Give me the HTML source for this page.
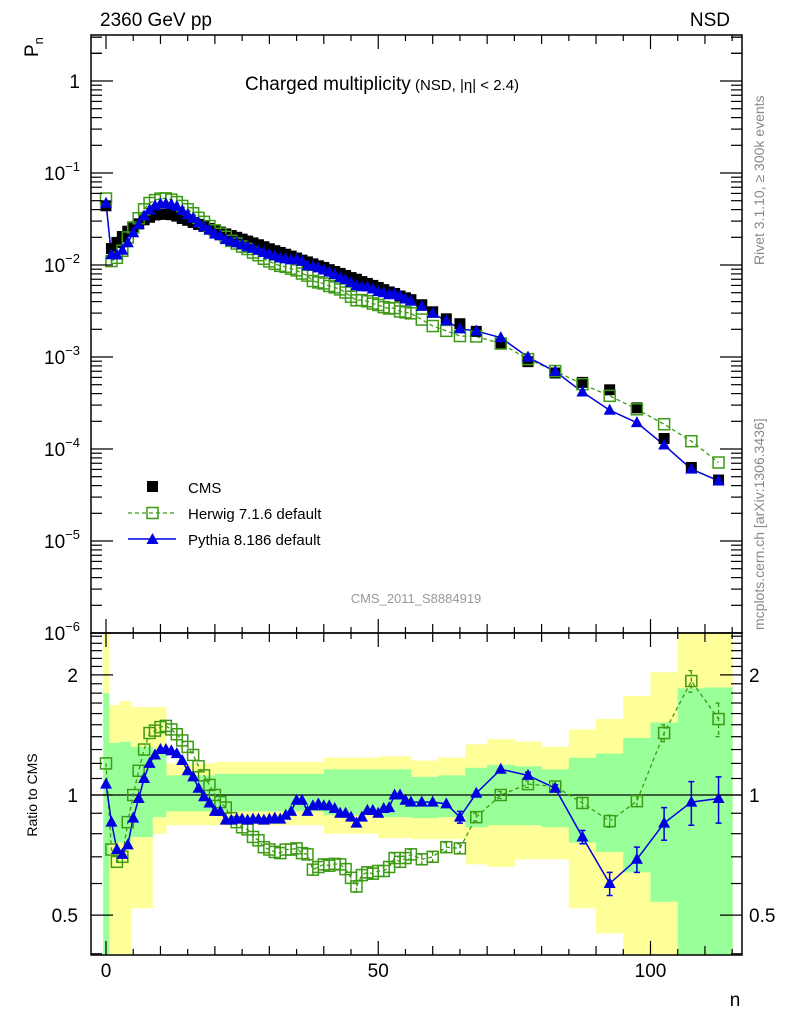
<!DOCTYPE html>
<html><head><meta charset="utf-8"><style>
body{margin:0;background:#fff}
svg{display:block;font-family:"Liberation Sans",sans-serif}
</style></head><body>
<svg id="chart" width="786" height="1024" viewBox="0 0 786 1024">
<rect x="0" y="0" width="786" height="1024" fill="#fff"/>
<g id="bands"></g>
<g id="grid"></g>
<g id="series"></g>
<g id="axes"></g>
<g id="texts">
<text x="100" y="26" font-size="19">2360 GeV pp</text>
<text x="730" y="26" font-size="19" text-anchor="end">NSD</text>
<text transform="translate(38,57) rotate(-90)" font-size="19">P<tspan font-size="13" dy="5">n</tspan></text>
<text x="245" y="90" font-size="19">Charged multiplicity<tspan font-size="15"> (NSD, |η| &lt; 2.4)</tspan></text>
<text transform="translate(764,265) rotate(-90)" font-size="14" fill="#888">Rivet 3.1.10, ≥ 300k events</text>
<text transform="translate(764,630) rotate(-90)" font-size="14" fill="#888">mcplots.cern.ch [arXiv:1306.3436]</text>
<text x="416" y="603" font-size="13" fill="#999" text-anchor="middle">CMS_2011_S8884919</text>
<text transform="translate(37,795) rotate(-90)" font-size="14" text-anchor="middle">Ratio to CMS</text>
<text x="735" y="1006" font-size="19" text-anchor="middle">n</text>
<g>
<rect x="147" y="481" width="11" height="11" fill="#000"/>
<text x="188" y="493" font-size="15">CMS</text>
<line x1="128" y1="513" x2="176" y2="513" stroke="#3c9a14" stroke-width="1.3" stroke-dasharray="4,3"/>
<rect x="147" y="507.5" width="11" height="11" fill="none" stroke="#3c9a14" stroke-width="1.5"/>
<text x="188" y="519" font-size="15">Herwig 7.1.6 default</text>
<line x1="128" y1="539" x2="176" y2="539" stroke="#0000e0" stroke-width="1.5"/>
<polygon points="152.5,533 158.5,544 146.5,544" fill="#0000e0"/>
<text x="188" y="545" font-size="15">Pythia 8.186 default</text>
</g>
</g>
</svg>
<script>
// ---- data ----
const nBins = [0,1,2,3,4,5,6,7,8,9,10,11,12,13,14,15,16,17,18,19,20,21,22,23,24,25,26,27,28,29,30,31,32,33,34,35,36,37,38,39,40,41,42,43,44,45,46,47,48,49,50,51,52,53,54,55,56,58,60,62.5,65,68,72.5,77.5,82.5,87.5,92.5,97.5,102.5,107.5,112.5];
const cmsValues = [0.044,0.0151,0.0176,0.0204,0.0233,0.0256,0.028,0.031,0.033,0.035,0.0356,0.0356,0.0352,0.034,0.032,0.0306,0.029,0.0276,0.0263,0.025,0.0238,0.0228,0.0218,0.0209,0.02,0.0191,0.0182,0.0174,0.0166,0.0158,0.015,0.0143,0.0137,0.0131,0.0125,0.0119,0.0113,0.0108,0.0103,0.0098,0.0094,0.0089,0.0085,0.0081,0.0077,0.0073,0.007,0.0066,0.0063,0.006,0.0057,0.0054,0.0051,0.0049,0.0046,0.0044,0.0042,0.0037,0.0031,0.0026,0.0023,0.0019,0.0014,0.00089,0.00067,0.00053,0.00044,0.00028,0.00013,0.000063,0.000046];
const herwigRatio = [1.2,0.73,0.68,0.7,0.855,1.0,1.15,1.3,1.43,1.45,1.48,1.49,1.46,1.42,1.37,1.32,1.26,1.18,1.12,1.06,1.0,0.96,0.93,0.875,0.855,0.83,0.82,0.785,0.77,0.74,0.73,0.72,0.715,0.73,0.73,0.735,0.715,0.71,0.65,0.66,0.67,0.665,0.672,0.67,0.652,0.62,0.59,0.63,0.64,0.635,0.645,0.645,0.66,0.695,0.68,0.695,0.71,0.69,0.7,0.74,0.735,0.88,1.0,1.065,1.05,0.955,0.86,0.965,1.43,1.93,1.55];
const pythiaRatio = [1.065,0.855,0.73,0.71,0.75,0.875,0.98,1.1,1.2,1.26,1.3,1.3,1.29,1.27,1.22,1.15,1.11,1.04,0.99,0.955,0.91,0.91,0.865,0.865,0.87,0.87,0.865,0.87,0.87,0.865,0.87,0.875,0.87,0.89,0.91,0.97,0.97,0.91,0.94,0.95,0.94,0.94,0.925,0.9,0.9,0.88,0.85,0.88,0.915,0.915,0.9,0.925,0.93,1.0,1.0,0.97,0.96,0.96,0.96,0.95,0.88,1.01,1.16,1.12,1.04,0.785,0.6,0.69,0.85,0.96,0.98];
const herwigErr = [0,0,0,0,0,0,0,0,0,0,0,0,0,0,0,0,0,0,0,0,0,0,0,0,0,0,0,0,0,0,0,0,0,0,0,0,0,0,0.02,0.02,0.02,0.02,0.02,0.02,0.02,0.02,0.02,0.02,0.02,0.02,0.02,0.02,0.02,0.02,0.02,0.02,0.02,0.02,0.02,0.02,0.02,0.02,0.02,0.02,0.02,0.03,0.03,0.03,0.07,0.12,0.15];
const pythiaErr = [0,0,0,0,0,0,0,0,0,0,0,0,0,0,0,0,0,0,0,0,0,0,0,0,0,0,0,0,0,0,0,0,0,0,0,0,0,0,0,0,0,0,0,0,0,0,0,0,0,0,0,0,0,0,0,0,0,0,0,0,0.03,0,0,0.02,0.02,0.03,0.04,0.05,0.08,0.12,0.13];
const bandStart = [-0.5,0.5,2.5,4.5,8.5,11,20,40,50,56,61,66,70,75,80,85,90,95,100,105,110];
const bandEnd   = [0.5,2.5,4.5,8.5,11,20,40,50,56,61,66,70,75,80,85,90,95,100,105,110,115];
const yellowLo = [0.3,0.3,0.3,0.52,0.8,0.84,0.84,0.8,0.78,0.775,0.775,0.67,0.66,0.69,0.69,0.52,0.45,0.3,0.3,0.3,0.3];
const yellowHi = [3,1.68,1.72,1.66,1.66,1.2,1.21,1.24,1.25,1.22,1.24,1.34,1.38,1.36,1.32,1.46,1.55,1.77,2.03,3,3];
const greenLo = [0.3,0.76,0.76,0.785,0.88,0.91,0.91,0.89,0.88,0.875,0.88,0.83,0.84,0.84,0.83,0.76,0.72,0.64,0.54,0.3,0.3];
const greenHi = [1.8,1.35,1.36,1.32,1.3,1.12,1.13,1.16,1.16,1.11,1.12,1.17,1.19,1.18,1.16,1.24,1.27,1.39,1.52,1.85,1.86];
const xTickLabels = [0,50,100];
const ratioTickLabels = [0.5,1,2];

// ---- axes ----
const L=91,R=742,T=35,MID=633,B=955;
const X = n => 106 + n*5.445;
const Ymain = v => 81 - Math.log10(v)*92;
const Yrat = r => 795 - Math.log10(r)*399;
const NS='http://www.w3.org/2000/svg';
function mk(tag, attrs, parent){const e=document.createElementNS(NS,tag);for(const k in attrs)e.setAttribute(k,attrs[k]);parent.appendChild(e);return e;}
const gB=document.getElementById('bands'), gS=document.getElementById('series'), gA=document.getElementById('axes');

// clip paths
const defs=mk('defs',{},document.getElementById('chart'));
const cp1=mk('clipPath',{id:'cmain'},defs); mk('rect',{x:L,y:T,width:R-L,height:MID-T},cp1);
const cp2=mk('clipPath',{id:'crat'},defs); mk('rect',{x:L,y:MID,width:R-L,height:B-MID},cp2);
gB.setAttribute('clip-path','url(#crat)');

for(let i=0;i<bandStart.length;i++){
  const y=mk('rect',{x:X(bandStart[i]),y:Yrat(yellowHi[i]),width:X(bandEnd[i])-X(bandStart[i])+0.5,height:Yrat(yellowLo[i])-Yrat(yellowHi[i]),fill:'#ffff99'},gB);
  
  
}
for(let i=0;i<bandStart.length;i++){
  const g=mk('rect',{x:X(bandStart[i]),y:Yrat(greenHi[i]),width:X(bandEnd[i])-X(bandStart[i])+0.5,height:Yrat(greenLo[i])-Yrat(greenHi[i]),fill:'#99ff99'},gB);
  
  
}
mk('line',{x1:L,y1:Yrat(1),x2:R,y2:Yrat(1),stroke:'#000','stroke-width':1.3},gB);

const gMain=mk('g',{'clip-path':'url(#cmain)'},gS);
const gRat=mk('g',{'clip-path':'url(#crat)'},gS);
const GREEN='#3c9a14', BLUE='#0000e0';

// main panel lines
let hp='',pp='';
nBins.forEach((n,i)=>{hp+=(i?'L':'M')+X(n)+','+Ymain(cmsValues[i]*herwigRatio[i]);pp+=(i?'L':'M')+X(n)+','+Ymain(cmsValues[i]*pythiaRatio[i]);});
mk('path',{d:hp,fill:'none',stroke:GREEN,'stroke-width':1.3,'stroke-dasharray':'4,3'},gMain);
mk('path',{d:pp,fill:'none',stroke:BLUE,'stroke-width':1.5},gMain);
nBins.forEach((n,i)=>{
  const c=mk('rect',{x:X(n)-5.5,y:Ymain(cmsValues[i])-5.5,width:11,height:11,fill:'#000'},gMain);
  
  
});
nBins.forEach((n,i)=>{
  const h=mk('rect',{x:X(n)-5.5,y:Ymain(cmsValues[i]*herwigRatio[i])-5.5,width:11,height:11,fill:'none',stroke:GREEN,'stroke-width':1.5},gMain);
  
  
});
nBins.forEach((n,i)=>{
  const x=X(n),y=Ymain(cmsValues[i]*pythiaRatio[i]);
  const p=mk('polygon',{points:`${x},${y-6.5} ${x+6},${y+4.5} ${x-6},${y+4.5}`,fill:BLUE},gMain);
  
  
});

// ratio panel
let hr='',pr='';
nBins.forEach((n,i)=>{hr+=(i?'L':'M')+X(n)+','+Yrat(herwigRatio[i]);pr+=(i?'L':'M')+X(n)+','+Yrat(pythiaRatio[i]);});
mk('path',{d:hr,fill:'none',stroke:GREEN,'stroke-width':1.3,'stroke-dasharray':'4,3'},gRat);
mk('path',{d:pr,fill:'none',stroke:BLUE,'stroke-width':1.5},gRat);
nBins.forEach((n,i)=>{
  const x=X(n);
  if(herwigErr[i]>0){const a=Yrat(herwigRatio[i]+herwigErr[i]),b=Yrat(herwigRatio[i]-herwigErr[i]);
    mk('path',{d:`M${x},${a}V${b}M${x-3},${a}H${x+3}M${x-3},${b}H${x+3}`,stroke:GREEN,'stroke-width':1.3,'stroke-dasharray':'4,3',fill:'none'},gRat);}
  const h=mk('rect',{x:x-5.5,y:Yrat(herwigRatio[i])-5.5,width:11,height:11,fill:'none',stroke:GREEN,'stroke-width':1.5},gRat);
  
  
});
nBins.forEach((n,i)=>{
  const x=X(n),y=Yrat(pythiaRatio[i]);
  if(pythiaErr[i]>0){const a=Yrat(pythiaRatio[i]+pythiaErr[i]),b=Yrat(pythiaRatio[i]-pythiaErr[i]);
    mk('path',{d:`M${x},${a}V${b}M${x-3},${a}H${x+3}M${x-3},${b}H${x+3}`,stroke:BLUE,'stroke-width':1.5,fill:'none'},gRat);}
  const p=mk('polygon',{points:`${x},${y-6.5} ${x+6},${y+4.5} ${x-6},${y+4.5}`,fill:BLUE},gRat);
  
  
});

// frames
mk('rect',{x:L,y:T,width:R-L,height:MID-T,fill:'none',stroke:'#000','stroke-width':1.5},gA);
mk('rect',{x:L,y:MID,width:R-L,height:B-MID,fill:'none',stroke:'#000','stroke-width':1.5},gA);

// x ticks
for(let n=0;n<=115;n+=5){
  const len = n%50===0?14:(n%10===0?9:6), x=X(n);
  [[T,1],[MID,1],[MID,-1],[B,-1]].forEach(([y0,d])=>mk('line',{x1:x,y1:y0,x2:x,y2:y0+d*len,stroke:'#000','stroke-width':1.2},gA));
}
xTickLabels.forEach(v=>{const t=mk('text',{x:X(v),y:977,'font-size':19,'text-anchor':'middle'},gA);t.textContent=v;
  
  });

// main y ticks (log)
for(let e=-6;e<=0;e++){
  for(let m=1;m<=9;m++){
    const y=Ymain(m*Math.pow(10,e)); if(y<T||y>MID) continue;
    const len=m===1?22:11;
    mk('line',{x1:L,y1:y,x2:L+len,y2:y,stroke:'#000','stroke-width':1.2},gA);
    mk('line',{x1:R,y1:y,x2:R-len,y2:y,stroke:'#000','stroke-width':1.2},gA);
  }
}
for(let m=2;m<=4;m++){const y=Ymain(m);if(y>=T){mk('line',{x1:L,y1:y,x2:L+11,y2:y,stroke:'#000','stroke-width':1.2},gA);mk('line',{x1:R,y1:y,x2:R-11,y2:y,stroke:'#000','stroke-width':1.2},gA);}}
const one=mk('text',{x:80,y:Ymain(1)+7,'font-size':19,'text-anchor':'end'},gA);one.textContent='1';


for(let e=-1;e>=-6;e--){
  const t=mk('text',{x:80,y:Ymain(Math.pow(10,e))+7,'font-size':19,'text-anchor':'end'},gA);
  
  
  t.innerHTML='10<tspan font-size="13" dy="-9">−'+(-e)+'</tspan>';
}

// ratio y ticks (log)
[0.4,0.5,0.6,0.7,0.8,0.9,1,1.1,1.2,1.3,1.4,1.5,1.6,1.7,1.8,1.9,2,2.1,2.2,2.3,2.4,2.5].forEach(r=>{
  const y=Yrat(r); if(y<MID||y>B) return;
  const len=ratioTickLabels.includes(r)?22:11;
  mk('line',{x1:L,y1:y,x2:L+len,y2:y,stroke:'#000','stroke-width':1.2},gA);
  mk('line',{x1:R,y1:y,x2:R-len,y2:y,stroke:'#000','stroke-width':1.2},gA);
});
ratioTickLabels.forEach(r=>{
  const a=mk('text',{x:78,y:Yrat(r)+7,'font-size':19,'text-anchor':'end'},gA);a.textContent=r;
  
  
  const b=mk('text',{x:749,y:Yrat(r)+7,'font-size':19},gA);b.textContent=r;
  
  
});
</script>
</body></html>
